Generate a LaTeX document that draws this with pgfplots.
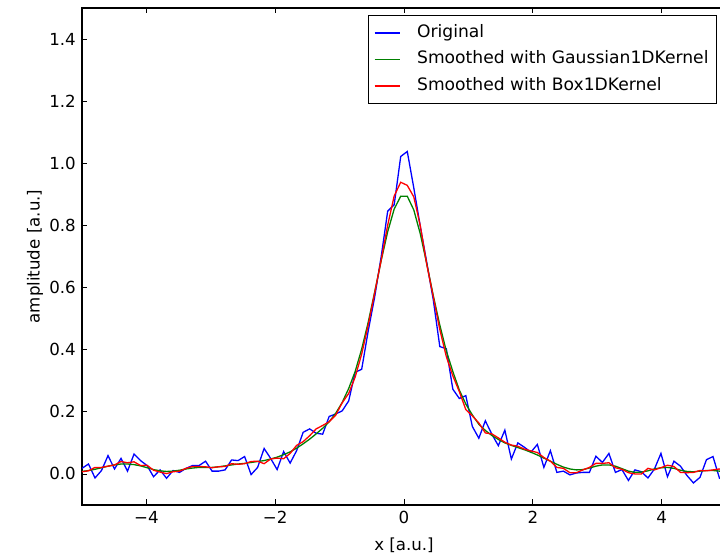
\documentclass[border=0pt]{standalone}
\usepackage{pgfplots}
\usepackage{pgfplotstable}
\pgfplotsset{compat=1.18}
\usepackage{fontspec}
\setmainfont{DejaVu Sans}
\pgfplotstableread{
x b g r
-5.000 0.018 0.008 0.007
-4.899 0.032 0.011 0.010
-4.798 -0.013 0.015 0.021
-4.697 0.011 0.020 0.021
-4.596 0.059 0.025 0.025
-4.495 0.016 0.029 0.029
-4.394 0.050 0.032 0.040
-4.293 0.009 0.032 0.036
-4.192 0.064 0.030 0.039
-4.091 0.043 0.026 0.027
-3.990 0.027 0.020 0.028
-3.889 -0.009 0.014 0.012
-3.788 0.013 0.010 0.006
-3.687 -0.014 0.008 0.001
-3.586 0.011 0.009 0.007
-3.485 0.005 0.012 0.009
-3.384 0.018 0.016 0.018
-3.283 0.027 0.019 0.024
-3.182 0.027 0.021 0.024
-3.081 0.041 0.021 0.023
-2.980 0.009 0.021 0.020
-2.879 0.009 0.023 0.023
-2.778 0.013 0.026 0.024
-2.677 0.045 0.029 0.033
-2.576 0.043 0.032 0.031
-2.475 0.056 0.034 0.033
-2.374 -0.002 0.037 0.040
-2.273 0.021 0.040 0.041
-2.172 0.082 0.043 0.033
-2.071 0.050 0.048 0.048
-1.970 0.014 0.054 0.051
-1.869 0.072 0.062 0.049
-1.768 0.035 0.071 0.066
-1.667 0.075 0.083 0.092
-1.566 0.134 0.097 0.104
-1.465 0.145 0.112 0.123
-1.364 0.131 0.129 0.145
-1.263 0.128 0.147 0.156
-1.162 0.185 0.168 0.168
-1.061 0.193 0.195 0.189
-0.960 0.203 0.230 0.229
-0.859 0.235 0.275 0.259
-0.758 0.327 0.330 0.312
-0.657 0.337 0.402 0.386
-0.556 0.460 0.488 0.479
-0.455 0.570 0.586 0.583
-0.354 0.700 0.687 0.689
-0.253 0.846 0.780 0.801
-0.152 0.867 0.853 0.895
-0.051 1.022 0.894 0.939
0.051 1.038 0.894 0.929
0.152 0.921 0.850 0.892
0.253 0.797 0.773 0.799
0.354 0.680 0.676 0.674
0.455 0.560 0.574 0.570
0.556 0.410 0.479 0.465
0.657 0.403 0.396 0.378
0.758 0.273 0.330 0.316
0.859 0.243 0.270 0.265
0.960 0.252 0.225 0.207
1.061 0.153 0.190 0.187
1.162 0.115 0.160 0.164
1.263 0.171 0.140 0.132
1.364 0.128 0.124 0.129
1.465 0.091 0.111 0.116
1.566 0.141 0.100 0.102
1.667 0.048 0.092 0.093
1.768 0.100 0.085 0.089
1.869 0.086 0.078 0.080
1.970 0.070 0.070 0.074
2.071 0.095 0.061 0.069
2.172 0.021 0.051 0.053
2.273 0.075 0.041 0.041
2.374 0.005 0.031 0.021
2.475 0.009 0.022 0.018
2.576 -0.003 0.016 0.004
2.677 0.003 0.013 0.004
2.778 0.005 0.014 0.013
2.879 0.005 0.019 0.021
2.980 0.057 0.025 0.034
3.081 0.037 0.029 0.034
3.182 0.066 0.029 0.036
3.283 0.005 0.025 0.020
3.384 0.014 0.017 0.015
3.485 -0.021 0.009 0.004
3.586 0.013 0.005 0.000
3.687 0.007 0.006 0.000
3.788 -0.013 0.010 0.018
3.889 0.016 0.016 0.013
3.990 0.066 0.020 0.020
4.091 -0.009 0.021 0.028
4.192 0.041 0.018 0.024
4.293 0.025 0.012 0.005
4.394 -0.005 0.008 0.004
4.495 -0.029 0.007 0.005
4.596 -0.011 0.009 0.011
4.697 0.046 0.011 0.010
4.798 0.056 0.011 0.013
4.899 -0.014 0.009 0.016
5.000 -0.010 0.006 0.006
}\datatable
\definecolor{mplgreen}{rgb}{0,0.5,0}
\begin{document}
\begin{tikzpicture}
\begin{axis}[
  at={(0,0)}, anchor=south west,
  scale only axis,
  width=644bp, height=497bp,
  xmin=-5, xmax=5, ymin=-0.1, ymax=1.5,
  xtick={-4,-2,0,2,4},
  xticklabels={−4,−2,0,2,4},
  ytick={0,0.2,0.4,0.6,0.8,1.0,1.2,1.4},
  yticklabels={0.0,0.2,0.4,0.6,0.8,1.0,1.2,1.4},
  minor tick num=0,
  tick align=inside,
  xtick pos=both, ytick pos=both,
  major tick length=5.5bp,
  every tick/.style={black, line width=0.7bp},
  axis line style={black, line width=1.2bp},
  tick label style={font=\fontsize{16.7}{20}\selectfont, black},
  xticklabel style={inner sep=0pt, yshift=-6bp},
  yticklabel style={inner sep=0pt, xshift=-6bp},
  label style={font=\fontsize{16.7}{20}\selectfont, black},
  xlabel={x [a.u.]},
  ylabel={amplitude [a.u.]},
  xlabel style={at={(axis description cs:0.5,-0.0805)}, anchor=center},
  ylabel style={at={(axis description cs:-0.073,0.5)}, anchor=center, rotate=0},
  legend style={
    at={(1,1)}, anchor=north east, xshift=-9bp, yshift=-7bp,
    draw=black, line width=1bp,
    font=\fontsize{17.2}{20}\selectfont,
    inner xsep=6bp, inner ysep=7.5bp,
    row sep=6.5bp,
    nodes={inner sep=2bp, text height=12.5bp, text depth=3.5bp},
    /tikz/every odd column/.append style={column sep=15bp},
  },
  legend cell align=left,
  legend image code/.code={\draw[#1, line width=1.1bp] (0bp,0bp) -- (25bp,0bp);},
]
\addplot[blue, line width=1.3bp, no markers] table[x=x, y=b] {\datatable};
\addlegendentry{Original}
\addplot[mplgreen, line width=1.3bp, no markers] table[x=x, y=g] {\datatable};
\addlegendentry{Smoothed with Gaussian1DKernel}
\addplot[red, line width=1.3bp, no markers] table[x=x, y=r] {\datatable};
\addlegendentry{Smoothed with Box1DKernel}
\end{axis}
\pgfresetboundingbox
\useasboundingbox (-82bp,-53bp) rectangle (638bp,505bp);
\end{tikzpicture}
\end{document}
